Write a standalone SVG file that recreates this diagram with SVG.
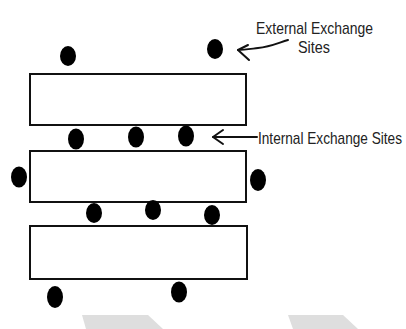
<svg xmlns="http://www.w3.org/2000/svg" width="406" height="329" viewBox="0 0 406 329">
<style>
.blk{fill:#fff;stroke:#111;stroke-width:2}
.dot{fill:#000}
.lbl{font-family:"Liberation Sans",Arial,sans-serif;font-size:16px;fill:#222}
.con{fill:none;stroke:#111;stroke-width:2;stroke-linecap:round;stroke-linejoin:round}
.wm{fill:#dedede}
</style>
<rect width="406" height="329" fill="#fff"/>
<polygon class="wm" points="82,315 148,315 163,329 86,329"/>
<polygon class="wm" points="288,315 343,315 358,329 293,329"/>
<g id="layer1"><rect class="blk" x="30" y="74" width="216" height="51"/></g>
<g id="layer2"><rect class="blk" x="30" y="151" width="216" height="51"/></g>
<g id="layer3"><rect class="blk" x="30" y="226" width="217" height="53"/></g>
<g id="sites">
<ellipse class="dot" cx="68" cy="56" rx="8" ry="10"/>
<ellipse class="dot" cx="215" cy="49" rx="8" ry="10"/>
<ellipse class="dot" cx="76" cy="139" rx="8" ry="10.5"/>
<ellipse class="dot" cx="136" cy="137" rx="8" ry="10.5"/>
<ellipse class="dot" cx="186" cy="136" rx="8" ry="10.5"/>
<ellipse class="dot" cx="19" cy="177" rx="8" ry="10.5"/>
<ellipse class="dot" cx="258" cy="180" rx="8" ry="11"/>
<ellipse class="dot" cx="94" cy="213" rx="8" ry="10"/>
<ellipse class="dot" cx="153" cy="210" rx="8" ry="10"/>
<ellipse class="dot" cx="212" cy="215" rx="8" ry="10"/>
<ellipse class="dot" cx="55" cy="297" rx="8" ry="11"/>
<ellipse class="dot" cx="179" cy="292" rx="8" ry="10.5"/>
</g>
<g id="connectors">
<path class="con" d="M288,40 C278,43 270,47 258,48 C250,49 244,50 238,50"/>
<path class="con" d="M248,45 L238,50 L249,60"/>
<path class="con" d="M257,137 L213,137"/>
<path class="con" d="M223,130 L213,137 L223,144"/>
</g>
<g id="labels">
<text class="lbl" transform="translate(256,34) scale(0.85,1)" textLength="137.6" lengthAdjust="spacingAndGlyphs">External Exchange</text>
<text class="lbl" transform="translate(298,53) scale(0.85,1)" textLength="37.6" lengthAdjust="spacingAndGlyphs">Sites</text>
<text class="lbl" transform="translate(258,144) scale(0.85,1)" textLength="169.4" lengthAdjust="spacingAndGlyphs">Internal Exchange Sites</text>
</g>
</svg>
